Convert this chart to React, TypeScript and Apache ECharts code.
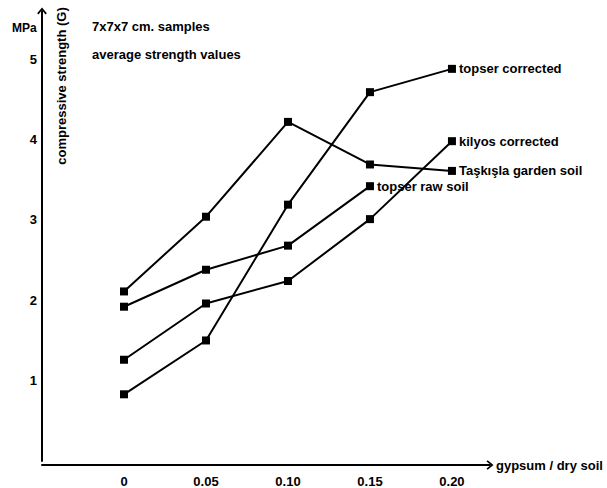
import React, { useEffect, useRef } from "react";
import * as echarts from "echarts";

const xValues = [0, 0.05, 0.1, 0.15, 0.2];
const xTickLabels: Record<string, string> = { "0": "0", "0.05": "0.05", "0.1": "0.10", "0.15": "0.15", "0.2": "0.20" };
const yTickLabels = ["1", "2", "3", "4", "5"];

const taskislaGarden = [2.11, 3.04, 4.22, 3.69, 3.61];
const topserRaw = [1.92, 2.38, 2.68, 3.42];
const kilyosCorrected = [1.26, 1.96, 2.24, 3.01, 3.98];
const topserCorrected = [0.83, 1.5, 3.19, 4.59, 4.88];

const seriesNames = ["Taşkışla garden soil", "topser raw soil", "kilyos corrected", "topser corrected"];
const seriesValues = [taskislaGarden, topserRaw, kilyosCorrected, topserCorrected];

const FONT = "'Liberation Sans', Arial, Helvetica, sans-serif";
const chevron = "path://M5 0 L10 6 L8.6 7.2 L5 2.6 L1.4 7.2 L0 6 Z";

export default function App() {
  const ref = useRef<HTMLDivElement>(null);
  useEffect(() => {
    if (!ref.current) return;
    const chart = echarts.init(ref.current, undefined, { renderer: "svg" });
    const axisLine = {
      show: true,
      onZero: false,
      lineStyle: { color: "#000", width: 2 },
      symbol: ["none", chevron],
      symbolSize: [10, 7],
    };
    chart.setOption({
      animation: false,
      backgroundColor: "#fff",
      textStyle: { fontFamily: FONT },
      grid: { left: 42, right: 117, top: 11, bottom: 26.5 },
      xAxis: {
        type: "value",
        min: -0.05,
        max: 0.2232,
        interval: 0.05,
        offset: 4,
        axisLine,
        axisTick: { show: false },
        splitLine: { show: false },
        axisLabel: {
          showMinLabel: false,
          showMaxLabel: false,
          margin: 10,
          color: "#000",
          fontWeight: "bold",
          fontSize: 13,
          fontFamily: FONT,
          formatter: (v: number) => {
            const k = String(Math.round(v * 100) / 100);
            return xTickLabels[k] ?? "";
          },
        },
      },
      yAxis: {
        type: "value",
        min: 0,
        max: 5.6,
        interval: 1,
        axisLine,
        axisTick: { show: false },
        splitLine: { show: false },
        axisLabel: {
          showMinLabel: false,
          showMaxLabel: false,
          margin: 5,
          color: "#000",
          fontWeight: "bold",
          fontSize: 13,
          fontFamily: FONT,
          formatter: (v: number) => {
            const i = Math.round(v) - 1;
            return i >= 0 && i < yTickLabels.length ? yTickLabels[i] : "";
          },
        },
      },
      series: seriesNames.map((name, si) => ({
        name,
        type: "line",
        data: seriesValues[si].map((v, i) => [xValues[i], v]),
        symbol: "rect",
        symbolSize: 8,
        showAllSymbol: true,
        itemStyle: { color: "#000" },
        lineStyle: { color: "#000", width: 2 },
        endLabel: {
          show: true,
          formatter: "{a}",
          distance: 7,
          color: "#000",
          fontWeight: "bold",
          fontSize: 13,
          fontFamily: FONT,
        },
      })),
      graphic: [
        {
          type: "text",
          left: 12,
          top: 22,
          style: { text: "MPa", fill: "#000", font: `bold 12px ${FONT}` },
        },
        {
          type: "text",
          x: 61,
          y: 86,
          rotation: Math.PI / 2,
          style: {
            text: "compressive strength (G)",
            fill: "#000",
            font: `bold 13px ${FONT}`,
            align: "center",
            verticalAlign: "middle",
          },
        },
        {
          type: "text",
          x: 92,
          y: 26,
          style: { text: "7x7x7 cm. samples", fill: "#000", font: `bold 13px ${FONT}`, verticalAlign: "middle" },
        },
        {
          type: "text",
          x: 92,
          y: 54,
          style: { text: "average strength values", fill: "#000", font: `bold 13px ${FONT}`, verticalAlign: "middle" },
        },
        {
          type: "text",
          x: 496,
          y: 465,
          style: { text: "gypsum / dry soil", fill: "#000", font: `bold 13px ${FONT}`, verticalAlign: "middle" },
        },
      ],
    });
    return () => chart.dispose();
  }, []);
  return <div ref={ref} style={{ width: 607, height: 488, position: "absolute", left: 0, top: 0 }} />;
}
